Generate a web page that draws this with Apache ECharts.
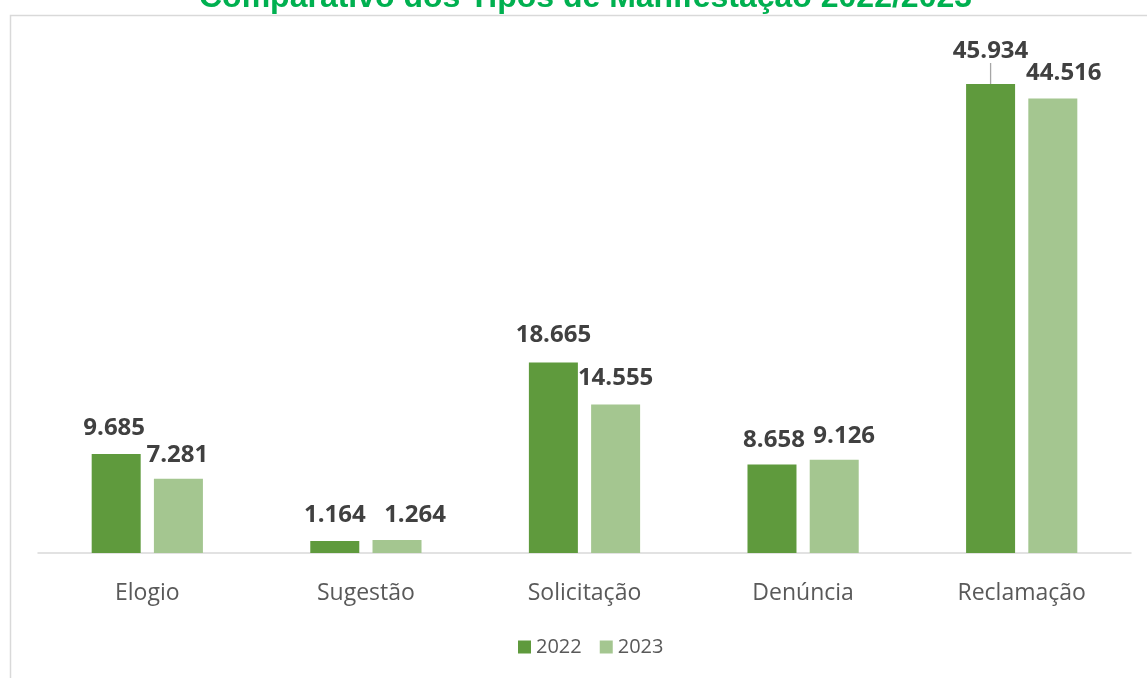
<!DOCTYPE html>
<html>
<head>
<meta charset="utf-8">
<script src="https://cdn.jsdelivr.net/npm/echarts@6/dist/echarts.min.js"></script>
<style>
html,body{margin:0;padding:0;background:#fff;}
#c{width:1147px;height:678px;}
</style>
</head>
<body>
<div id="c"></div>
<script>
const titleText = 'Comparativo dos Tipos de Manifestação 2022/2023';
const categories = ['Elogio', 'Sugestão', 'Solicitação', 'Denúncia', 'Reclamação'];
const seriesNames = ['2022', '2023'];
const values2022 = [9685, 1164, 18665, 8658, 45934];
const values2023 = [7281, 1264, 14555, 9126, 44516];

// label nudges (dx, dy) in px, per series/category
const labelNudge2022 = [[-2, 0], [0, 0], [0, -1], [2, 2], [0, -7]];
const labelNudge2023 = [[-1, 2], [18, 1], [0, 0], [10, 2], [11, 1]];

function fmt(v) {
  return String(v).replace(/\B(?=(\d{3})+(?!\d))/g, '.');
}

const chart = echarts.init(document.getElementById('c'), null, {renderer: 'canvas'});

const labelStyle = {
  show: true,
  position: 'top',
  distance: 14,
  fontFamily: 'Open Sans',
  fontWeight: 'bold',
  fontSize: 24,
  lineHeight: 24,
  color: '#404040',
  formatter: p => fmt(p.value)
};

function makeData(vals, idxSeries) {
  return vals.map((v, i) => {
    const item = {value: v};
    if (idxSeries === 0 && i === 4) {
      item.labelLine = {show: true, lineStyle: {color: '#A6A6A6', width: 1.3}};
    }
    return item;
  });
}

const option = {
  backgroundColor: '#ffffff',
  animation: false,
  title: {
    text: titleText,
    left: 194,
    top: -23,
    textStyle: {
      fontFamily: 'Liberation Sans',
      fontWeight: 'bold',
      fontSize: 32,
      color: '#00B050'
    }
  },
  graphic: [{
    type: 'rect',
    left: 8, top: 13,
    shape: {width: 1200, height: 700},
    style: {fill: 'none', stroke: '#D9D9D9', lineWidth: 1.5},
    silent: true, z: -1
  }],
  legend: {
    data: seriesNames,
    top: 632,
    left: 513,
    icon: 'rect',
    itemWidth: 13,
    itemHeight: 13,
    itemGap: 18,
    textStyle: {fontFamily: 'Open Sans', fontSize: 20, color: '#595959', padding: [0, 0, 0, 0]}
  },
  grid: {left: 38, right: 16, top: 42.5, bottom: 125, containLabel: false},
  xAxis: {
    type: 'category',
    data: categories,
    axisLine: {show: true, lineStyle: {color: '#D9D9D9', width: 1.5}},
    axisTick: {show: false},
    axisLabel: {fontFamily: 'Open Sans', fontSize: 23, color: '#595959', margin: 29}
  },
  yAxis: {
    type: 'value',
    min: 0, max: 50000, interval: 10000,
    show: false,
    splitLine: {show: false}
  },
  labelLayout: function (params) {
    const nudge = params.seriesIndex === 0 ? labelNudge2022 : labelNudge2023;
    const n = nudge[params.dataIndex];
    return {dx: n[0], dy: n[1]};
  },
  series: [
    {
      name: seriesNames[0],
      type: 'bar',
      data: makeData(values2022, 0),
      barWidth: 49,
      barGap: '27%',
      itemStyle: {color: '#5F9A3D'},
      label: labelStyle
    },
    {
      name: seriesNames[1],
      type: 'bar',
      data: makeData(values2023, 1),
      barWidth: 49,
      barGap: '27%',
      itemStyle: {color: '#A4C690'},
      label: labelStyle
    }
  ]
};

chart.setOption(option);
</script>
</body>
</html>
